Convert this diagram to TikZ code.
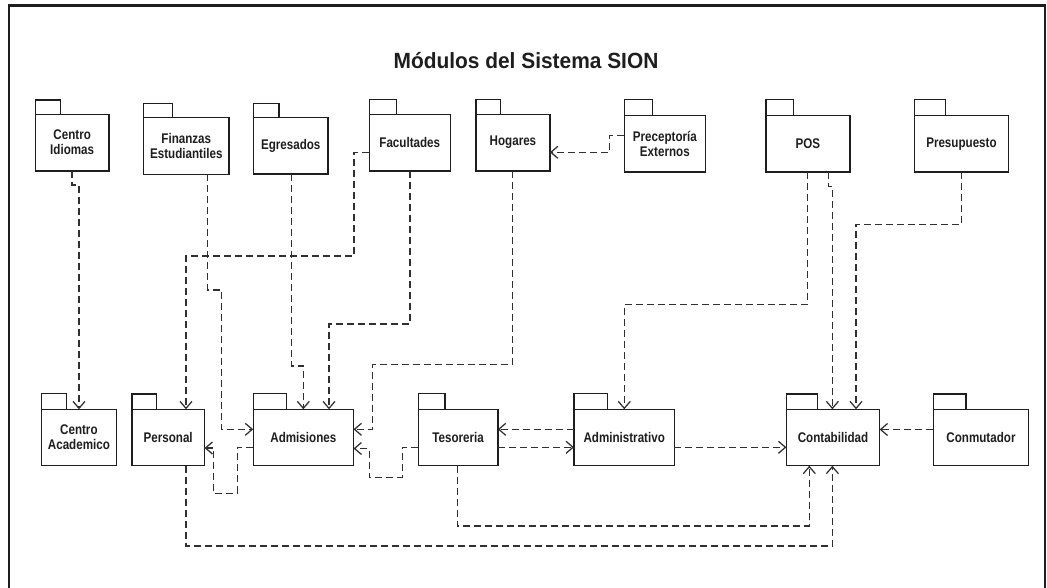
\documentclass[tikz,border=0pt]{standalone}
\usepackage{fontspec}
\setmainfont{Liberation Sans}
\newfontfamily\lblfont{Liberation Sans}[FakeStretch=0.83]
\newfontfamily\ttlfont{Liberation Sans}[FakeStretch=0.95]
\usetikzlibrary{arrows.meta}
\definecolor{ink}{HTML}{1E1E1E}
\definecolor{wire}{HTML}{303030}

% package symbol: body node plus a tab on its upper left corner
% #1 name, #2 left, #3 right, #4 tab right, #5 tab top, #6 body top, #7 bottom, #8 label
\newcommand{\pkgbox}[8]{%
  \node[pkgbody, minimum width={#3-#2}, minimum height={#7-#6}]
    (#1) at ({(#2+#3)/2},{(#6+#7)/2}) {#8};
  \draw[pkgline] (#1.north west) rectangle (#4,#5);
}

\begin{document}
\begin{tikzpicture}[x=1pt,y=-1pt,
  pkgline/.style={draw=ink, line width=1.4pt},
  pkgbody/.style={pkgline, fill=white, inner sep=0pt, outer sep=0pt,
    align=center, text=ink,
    font=\lblfont\bfseries\fontsize{14}{15}\selectfont},
  dep/.style={draw=wire, line width=1.25pt, dash pattern=on 7pt off 4pt,
    -{Straight Barb[length=7pt,width=12pt]}},
  frameline/.style={draw=ink, line width=2.4pt}]

\useasboundingbox (0,0) rectangle (1047,588);
\clip (0,0) rectangle (1047,588);

% outer frame
\draw[frameline] (8.7,600) -- (8.7,5.5) -- (1045,5.5) -- (1045,600);

% title
\node[anchor=base, text=ink, font=\ttlfont\bfseries\fontsize{22}{24}\selectfont]
  (title) at (526,68.3) {Módulos del Sistema SION};

% upper row of packages
\pkgbox{cid}{35.5}{108.9}{60.2}{100}{114.3}{171}{Centro\\Idiomas}
\pkgbox{fin}{143.7}{228.9}{172.4}{103.3}{117.7}{174.3}{Finanzas\\Estudiantiles}
\pkgbox{egr}{253.5}{328}{278.9}{103.3}{117.7}{174}{Egresados}
\pkgbox{fac}{369.2}{450.3}{396.2}{99.3}{114.3}{171}{Facultades}
\pkgbox{hog}{476}{549.9}{500.3}{99.3}{114.3}{171}{Hogares}
\pkgbox{pre}{624.2}{705.5}{652.5}{99.3}{115.3}{172}{Preceptoría\\Externos}
\pkgbox{pos}{765.9}{850}{793.4}{99.3}{115.3}{172}{POS}
\pkgbox{pres}{914.5}{1008.4}{945.6}{99.3}{115.3}{172}{Presupuesto}

% lower row of packages
\pkgbox{cac}{41.2}{116.6}{66.3}{393.3}{409.3}{465.7}{Centro\\Academico}
\pkgbox{per}{131.8}{204.5}{156.5}{394}{409.3}{465.7}{Personal}
\pkgbox{adm}{253.2}{353.5}{286.7}{393.3}{409.3}{465.7}{Admisiones}
\pkgbox{tes}{418.4}{497.8}{444.9}{393.3}{409.3}{465.7}{Tesoreria}
\pkgbox{admv}{574}{674.4}{607.5}{393.3}{409.3}{465.7}{Administrativo}
\pkgbox{con}{786.4}{879.6}{817.5}{394}{409.3}{465.7}{Contabilidad}
\pkgbox{cnm}{933.4}{1028.6}{965.8}{394}{409.3}{465.7}{Conmutador}

% dependencies
\draw[dep] (cid.south -| 72,0) |- (79,185) -- (cac.north -| 79,0);
\draw[dep] (fin.south -| 207.3,0) |- (221.7,290) |- (adm.west |- 0,429.3);
\draw[dep] (egr.south -| 291.5,0) |- (303.3,366) -- (adm.north -| 303.3,0);
\draw[dep] (fac.west |- 0,152.3) -| (354,256) -| (per.north -| 186,0);
\draw[dep] (fac.south -| 410,0) |- (329,324) -- (adm.north -| 329,0);
\draw[dep] (hog.south -| 512.8,0) |- (372.5,364.3) |- (adm.east |- 0,429.3);
\draw[dep] (pre.west |- 0,135.7) -| (609.2,152.3) -- (hog.east |- 0,152.3);
\draw[dep] (pos.south -| 807.2,0) |- (624.3,304.7) -- (admv.north -| 624.3,0);
\draw[dep] (pos.south -| 828.5,0) |- (832.4,186.5) -- (con.north -| 832.4,0);
\draw[dep] (pres.south -| 961.7,0) |- (856,224.3) -- (con.north -| 856,0);
\draw[dep] (cnm.west |- 0,429.5) -- (con.east |- 0,429.5);
\draw[dep] (admv.west |- 0,429.3) -- (tes.east |- 0,429.3);
\draw[dep] (tes.east |- 0,447.3) -- (admv.west |- 0,447.3);
\draw[dep] (admv.east |- 0,447.3) -- (con.west |- 0,447.3);
\draw[dep] (adm.west |- 0,447.3) -| (237.3,493.3) -| (213.3,448) -- (per.east |- 0,448);
\draw[dep] (tes.west |- 0,447.3) -| (402.3,477.3) -| (369.2,448.5) -- (adm.east |- 0,448.5);
\draw[dep] (tes.south -| 457.3,0) |- (809.3,526) -- (con.south -| 809.3,0);
\draw[dep] (per.south -| 186,0) |- (832.4,546) -- (con.south -| 832.4,0);

\end{tikzpicture}
\end{document}
